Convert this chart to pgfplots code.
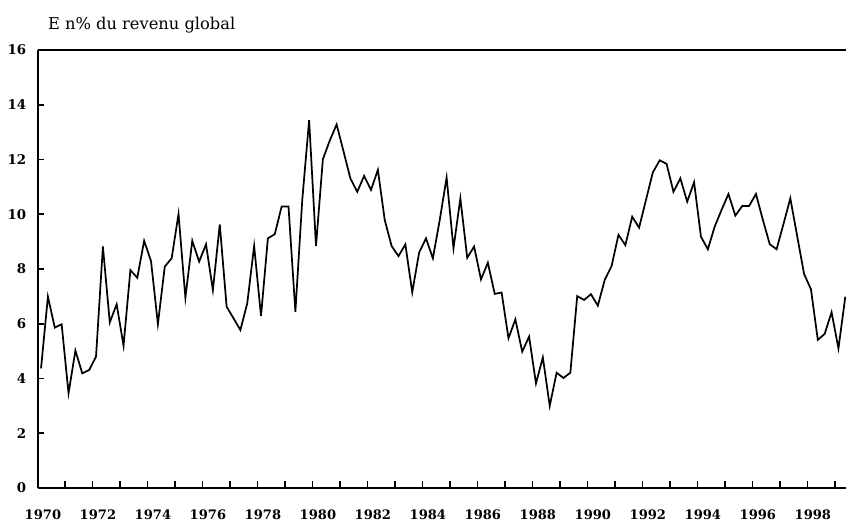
\documentclass[border=0pt]{standalone}
\usepackage{fontspec}
\setmainfont{DejaVu Serif}
\usepackage{pgfplots}
\pgfplotsset{compat=1.18}
\pgfplotstableread{
x y
1970.125 4.37
1970.375 6.99
1970.625 5.86
1970.875 5.98
1971.125 3.46
1971.375 5.02
1971.625 4.19
1971.875 4.31
1972.125 4.80
1972.375 8.82
1972.625 6.05
1972.875 6.71
1973.125 5.20
1973.375 7.96
1973.625 7.68
1973.875 9.03
1974.125 8.29
1974.375 5.99
1974.625 8.09
1974.875 8.39
1975.125 10.01
1975.375 6.95
1975.625 9.03
1975.875 8.27
1976.125 8.90
1976.375 7.23
1976.625 9.63
1976.875 6.62
1977.125 6.20
1977.375 5.77
1977.625 6.75
1977.875 8.84
1978.125 6.28
1978.375 9.12
1978.625 9.27
1978.875 10.28
1979.125 10.28
1979.375 6.44
1979.625 10.52
1979.875 13.44
1980.125 8.84
1980.375 12.01
1980.625 12.69
1980.875 13.28
1981.125 12.30
1981.375 11.31
1981.625 10.82
1981.875 11.40
1982.125 10.89
1982.375 11.62
1982.625 9.79
1982.875 8.84
1983.125 8.47
1983.375 8.90
1983.625 7.15
1983.875 8.60
1984.125 9.12
1984.375 8.39
1984.625 9.79
1984.875 11.34
1985.125 8.76
1985.375 10.58
1985.625 8.41
1985.875 8.82
1986.125 7.62
1986.375 8.23
1986.625 7.09
1986.875 7.14
1987.125 5.47
1987.375 6.16
1987.625 4.98
1987.875 5.53
1988.125 3.82
1988.375 4.77
1988.625 3.00
1988.875 4.21
1989.125 4.02
1989.375 4.21
1989.625 7.01
1989.875 6.87
1990.125 7.08
1990.375 6.66
1990.625 7.60
1990.875 8.11
1991.125 9.25
1991.375 8.87
1991.625 9.91
1991.875 9.51
1992.125 10.52
1992.375 11.53
1992.625 11.97
1992.875 11.84
1993.125 10.82
1993.375 11.31
1993.625 10.46
1993.875 11.17
1994.125 9.18
1994.375 8.72
1994.625 9.55
1994.875 10.16
1995.125 10.74
1995.375 9.95
1995.625 10.30
1995.875 10.30
1996.125 10.74
1996.375 9.80
1996.625 8.91
1996.875 8.72
1997.125 9.64
1997.375 10.58
1997.625 9.20
1997.875 7.82
1998.125 7.26
1998.375 5.41
1998.625 5.63
1998.875 6.42
1999.125 5.10
1999.375 6.99
}\revenu
\begin{document}
\begin{tikzpicture}
\begin{axis}[
  scale only axis,
  width=606.3pt, height=328.5pt,
  xmin=1970, xmax=1999.4, ymin=0, ymax=16,
  axis x line*=bottom, axis y line*=left,
  axis line style={-, line width=1.6pt},
  tick align=inside,
  xtick={1970,1972,...,1998},
  minor xtick={1971,1973,...,1999},
  ytick={0,2,...,16},
  major tick length=5pt, minor tick length=5pt,
  tick style={black, line width=1.3pt},
  /pgf/number format/assume math mode=true,
  /pgf/number format/1000 sep={},
  xticklabel style={font=\bfseries\fontsize{9.8}{11}\selectfont, xshift=4pt, yshift=-13pt},
  yticklabel style={font=\bfseries\fontsize{10}{11}\selectfont, xshift=-5pt},
]
\addplot[black, line width=1.3pt, mark=none] table[x=x, y=y] {\revenu};
\draw[line width=1.6pt] (rel axis cs:0,1) -- (rel axis cs:1,1);
\end{axis}
\node[anchor=base west, inner sep=0pt, font=\fontsize{12.2}{14}\selectfont] at (7.6pt,344pt) {E n\% du revenu global};
\pgfresetboundingbox
\path[use as bounding box] (-28.2pt,-27.75pt) rectangle (606.3pt,366pt);
\end{tikzpicture}
\end{document}
